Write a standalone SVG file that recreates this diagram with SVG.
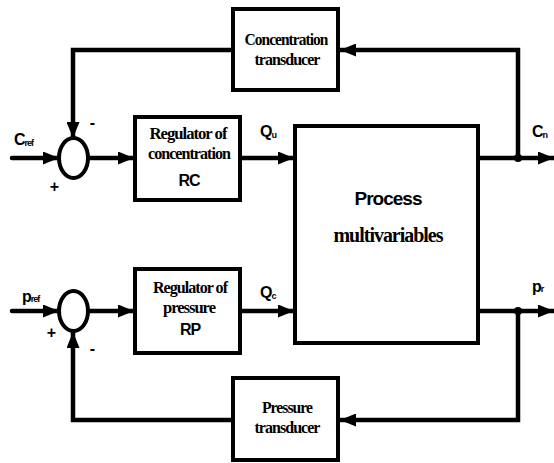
<svg xmlns="http://www.w3.org/2000/svg" width="554" height="463" viewBox="0 0 554 463">
<defs>
<marker id="ah" markerUnits="userSpaceOnUse" markerWidth="16" markerHeight="13" refX="16" refY="6.5" orient="auto">
<path d="M0,0 L16,6.5 L0,13 z" fill="#000"/>
</marker>
<style>
.box{fill:#fff;stroke:#000;stroke-width:4}
.ln{fill:none;stroke:#000;stroke-width:4.5;stroke-linejoin:miter}
.sr{font-family:"Liberation Serif",serif;font-weight:bold;text-anchor:middle;letter-spacing:-1px}
.ss{font-family:"Liberation Sans",sans-serif;font-weight:bold;letter-spacing:-1px}
.mid{text-anchor:middle}
</style>
</defs>
<rect width="554" height="463" fill="#fff"/>
<g id="connectors">
<path class="ln" d="M518,158 V50 H340" marker-end="url(#ah)"/>
<path class="ln" d="M233,50 H73 V138" marker-end="url(#ah)"/>
<path class="ln" d="M12,158 H59" marker-end="url(#ah)" stroke-linecap="round"/>
<path class="ln" d="M88,158 H134" marker-end="url(#ah)"/>
<path class="ln" d="M240,158 H294" marker-end="url(#ah)"/>
<path class="ln" d="M478,158 H554" marker-end="url(#ah)"/>
<path class="ln" d="M518,311 V420 H340" marker-end="url(#ah)"/>
<path class="ln" d="M233,420 H73 V332" marker-end="url(#ah)"/>
<path class="ln" d="M12,311 H59" marker-end="url(#ah)" stroke-linecap="round"/>
<path class="ln" d="M88,311 H134" marker-end="url(#ah)"/>
<path class="ln" d="M240,311 H294" marker-end="url(#ah)"/>
<path class="ln" d="M478,311 H554" marker-end="url(#ah)"/>
<circle cx="518" cy="158" r="4"/>
<circle cx="518" cy="311" r="4"/>
</g>
<g id="sum1">
<ellipse cx="73.5" cy="158" rx="14.5" ry="20" fill="#fff" stroke="#000" stroke-width="4"/>
<text class="ss" x="14" y="145" font-size="16">C<tspan font-size="9" dy="1">ref</tspan></text>
<text class="ss mid" x="54" y="192" font-size="16">+</text>
<text class="ss mid" x="92" y="128" font-size="16">-</text>
</g>
<g id="sum2">
<ellipse cx="73.5" cy="311" rx="14.5" ry="20" fill="#fff" stroke="#000" stroke-width="4"/>
<text class="ss" x="22" y="302" font-size="16">p<tspan font-size="9" dy="0">ref</tspan></text>
<text class="ss mid" x="51" y="338" font-size="16">+</text>
<text class="ss mid" x="92" y="354" font-size="16">-</text>
</g>
<g id="conc-transducer">
<rect class="box" x="233" y="9" width="105" height="81"/>
<text class="sr" x="286" y="45" font-size="16.5" textLength="83" lengthAdjust="spacingAndGlyphs">Concentration</text>
<text class="sr" x="287" y="65" font-size="16.5" textLength="65" lengthAdjust="spacingAndGlyphs">transducer</text>
</g>
<g id="reg-conc">
<rect class="box" x="135" y="117" width="105" height="83"/>
<text class="sr" x="188" y="139" font-size="16.5" textLength="77" lengthAdjust="spacingAndGlyphs">Regulator of</text>
<text class="sr" x="189" y="159" font-size="16.5" textLength="82" lengthAdjust="spacingAndGlyphs">concentration</text>
<text class="ss mid" x="189" y="186" font-size="16">RC</text>
<text class="ss" x="260" y="137" font-size="16">Q<tspan font-size="9" dy="1">u</tspan></text>
</g>
<g id="process">
<rect class="box" x="295" y="126" width="183" height="217"/>
<text class="ss mid" x="388" y="205" font-size="19">Process</text>
<text class="sr" x="388" y="242" font-size="20" textLength="109" lengthAdjust="spacingAndGlyphs">multivariables</text>
<text class="ss" x="532" y="137" font-size="16">C<tspan font-size="9" dy="1">n</tspan></text>
<text class="ss" x="532" y="292" font-size="16">p<tspan font-size="9" dy="0">r</tspan></text>
</g>
<g id="reg-pres">
<rect class="box" x="135" y="269" width="105" height="84"/>
<text class="sr" x="190" y="293" font-size="16.5" textLength="74" lengthAdjust="spacingAndGlyphs">Regulator of</text>
<text class="sr" x="189" y="313" font-size="16.5" textLength="52" lengthAdjust="spacingAndGlyphs">pressure</text>
<text class="ss mid" x="190" y="335" font-size="16">RP</text>
<text class="ss" x="260" y="298" font-size="16">Q<tspan font-size="9" dy="1">c</tspan></text>
</g>
<g id="pres-transducer">
<rect class="box" x="233" y="378" width="105" height="82"/>
<text class="sr" x="287" y="413" font-size="16.5" textLength="50" lengthAdjust="spacingAndGlyphs">Pressure</text>
<text class="sr" x="287" y="433" font-size="16.5" textLength="65" lengthAdjust="spacingAndGlyphs">transducer</text>
</g>
</svg>
